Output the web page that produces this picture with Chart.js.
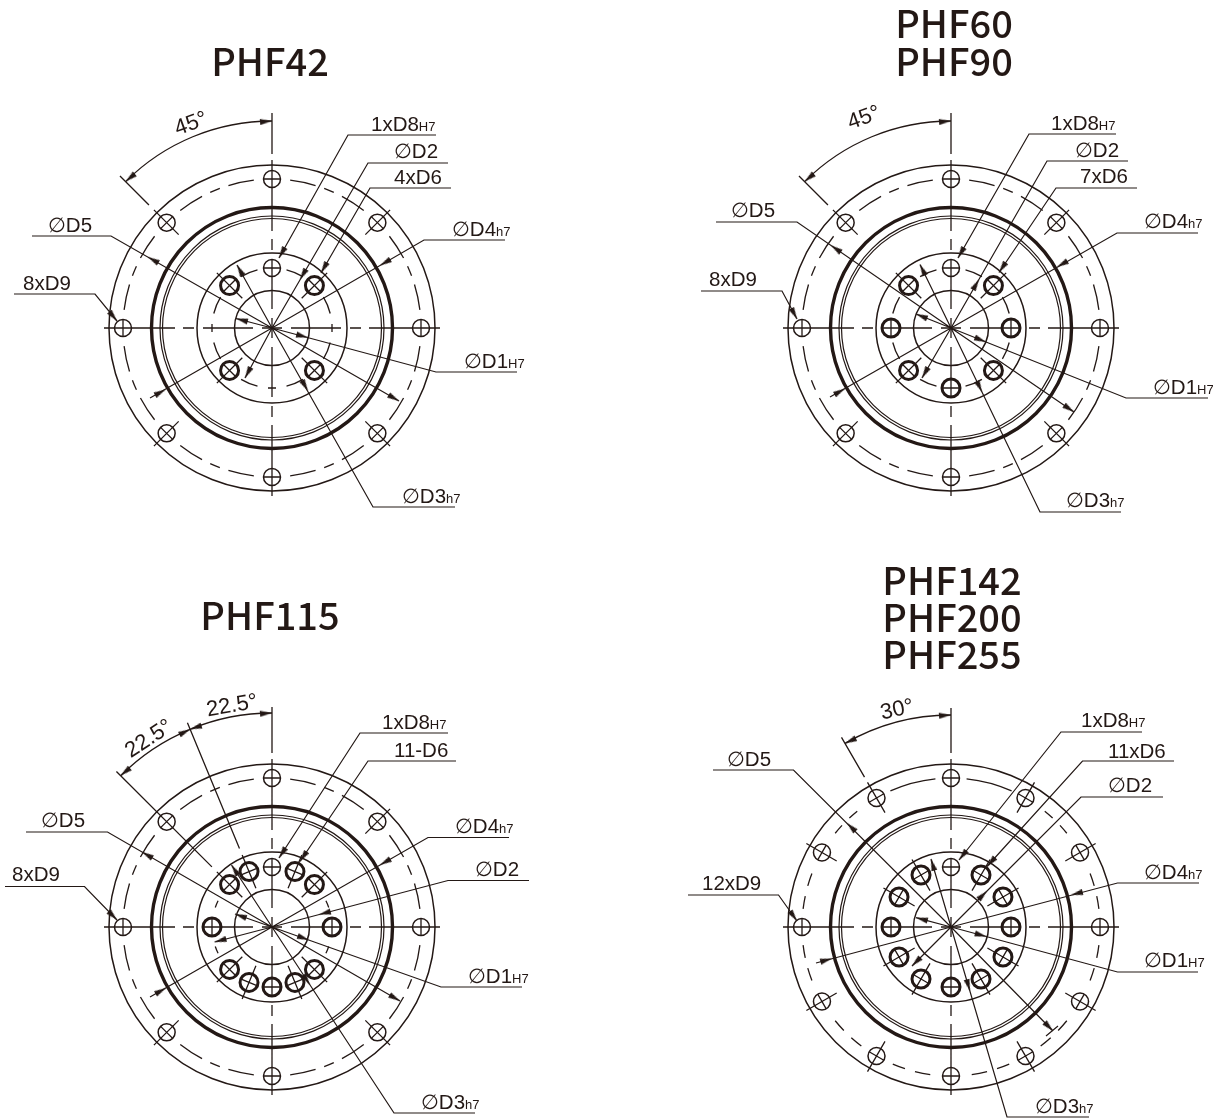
<!DOCTYPE html>
<html>
<head>
<meta charset="utf-8">
<title>PHF</title>
<script src="https://cdn.jsdelivr.net/npm/chart.js@4/dist/chart.umd.min.js"></script>
<style>
  html, body { margin: 0; padding: 0; background: #fff; }
  canvas { display: block; }
</style>
</head>
<body>
<canvas id="chart" width="1213" height="1118"></canvas>
<script>
// the four flange views, x and y
const viewX = [272, 951, 272, 951];
const viewY = [328, 328, 927, 927];

const titleTexts = ['PHF42', 'PHF60', 'PHF90', 'PHF115', 'PHF142', 'PHF200', 'PHF255'];
const titleX = [270, 954, 954, 270, 952, 952, 952];
const titleY = [76, 38, 76, 630, 595, 632, 669];

// ring radii
const ringsThin = [163, 75, 37.5];
const ringsDouble = [112, 109.5];
const ringThick = [120.5];
const circleOuterHoles = 149;
const circleInnerHoles = 60;
const holeRadius = 8.5;
const thickHoleRadius = 9;

const outerHoleAngles = [
  [0, 45, 90, 135, 180, 225, 270, 315],
  [0, 45, 90, 135, 180, 225, 270, 315],
  [0, 45, 90, 135, 180, 225, 270, 315],
  [0, 30, 60, 90, 120, 150, 180, 210, 240, 270, 300, 330]
];
const innerHoleAngles = [
  [45, 135, 225, 315],
  [0, 45, 135, 180, 225, 270, 315],
  [0, 45, 67.5, 112.5, 135, 180, 225, 247.5, 270, 292.5, 315],
  [0, 30, 60, 120, 150, 180, 210, 240, 270, 300, 330]
];
const d8Angle = 90;
const innerTickAngles = [[0, 180, 270], [], [], []];

// broken line of the bolt circles: [from, to] degrees
const dashes45 = [[7, 17], [20.5, 24.5], [28, 38], [52, 62], [65.5, 69.5], [73, 83], [97, 107], [110.5, 114.5], [118, 128], [142, 152], [155.5, 159.5], [163, 173], [187, 197], [200.5, 204.5], [208, 218], [232, 242], [245.5, 249.5], [253, 263], [277, 287], [290.5, 294.5], [298, 308], [322, 332], [335.5, 339.5], [343, 353]];
const dashes30 = [[7, 12], [16, 21], [39, 43], [47, 51], [66, 84], [96, 114], [129, 133], [137, 141], [159, 164], [168, 173], [187, 192], [196, 201], [219, 224], [228, 233], [247, 252], [256, 262], [278, 284], [288, 293], [307, 312], [316, 321], [339, 344], [348, 353]];
const dashesInner45 = [[14, 31], [59, 76], [104, 121], [149, 166], [194, 211], [239, 256], [284, 301], [329, 346]];
const dashesOuter = [dashes45, dashes45, dashes45, dashes30];
const dashesInner = [dashesInner45, dashesInner45, [[19, 26], [154, 161], [199, 206], [334, 341]], []];

// the angle dimensions: view, radius, from, to
const angleArcView = [0, 1, 2, 3];
const angleArcRadius = [207, 207, 214, 212];
const angleArcFrom = [90, 90, 90, 90];
const angleArcTo = [135, 135, 135, 120];
const angleArrowTips = [[90, 135], [90, 135], [90, 112.5, 112.5, 135], [90, 120]];
const angleArrowBack = [[100, 125], [100, 125], [98, 104, 121, 125], [98, 110]];
// extension lines: angle, r from, r to
const extensionLines = [
  [[135, 174, 215]],
  [[135, 174, 215]],
  [[135, 85, 220], [112.5, 85, 221]],
  [[120, 173, 219]]
];

// centre line breaks, distance from the view centre
const centreDashes = [[-168, -97], [-89, -78], [-69, -19], [-10, 10], [19, 69], [78, 89], [97, 168]];
const topDash = [[-215, -174], [-215, -174], [-220, -174], [-219, -174]];

const leaders = [
  [[436, 135], [348, 135], [279, 258]],
  [[448, 163], [368, 163], [272, 328], [245, 378]],
  [[451, 188], [370, 188], [321, 273]],
  [[505, 240], [424, 240], [272, 328], [150, 398]],
  [[32, 236], [111, 236], [272, 328], [399, 401]],
  [[14, 294], [95, 294], [117, 321]],
  [[455, 507], [373, 507], [272, 328], [237, 265]],
  [[517, 372], [436, 372], [272, 328], [236, 318.5]],

  [[1116, 134], [1029, 134], [958, 258]],
  [[1128, 161], [1047, 161], [951, 328], [922, 378]],
  [[1137, 188], [1056, 188], [999, 272.5]],
  [[1198, 233], [1117, 233], [951, 328], [830, 397]],
  [[716, 222], [797, 222], [951, 328], [1074, 412]],
  [[701, 291], [782, 291], [797, 319]],
  [[1121, 512], [1040, 512], [951, 328], [920, 264.5]],
  [[1208, 398], [1126, 398], [951, 328], [916, 314]],

  [[448, 733], [360, 733], [279, 858]],
  [[456, 761], [368, 761], [300, 861.5]],
  [[26, 832], [107.5, 832], [272, 927], [400, 1001]],
  [[5, 886.5], [84.5, 886.5], [117, 920]],
  [[509, 837.5], [428, 837.5], [272, 927], [150, 997]],
  [[529, 880.5], [448, 880.5], [272, 927], [214.6, 942]],
  [[522, 987], [441, 987], [272, 927], [235, 914]],
  [[475, 1113], [394, 1113], [272, 927], [231.5, 865]],

  [[1142, 732], [1061, 732], [959, 860]],
  [[1174, 761], [1082.5, 761], [987, 866.5]],
  [[1163, 797], [1081, 797], [951, 927], [912, 966]],
  [[1199, 883], [1117.5, 883], [951, 927], [816, 963]],
  [[1198, 972], [1117.5, 972], [951, 927], [916, 917.6]],
  [[1089, 1117], [1007, 1117], [951, 927], [931, 859]],
  [[713, 770], [793.5, 770], [951, 927], [1053, 1031]],
  [[688, 895], [778.5, 895], [797, 921]],
  [[1046, 1036], [1058, 1026]]
];

// tip x, tip y, then a point on the shaft behind it
const arrowHeads = [
  [279, 258, 348, 135], [300, 279.6, 368, 163], [245, 378, 272, 328], [321, 273, 370, 188],
  [380, 265.5, 424, 240], [165.6, 389.5, 150, 398], [148, 257, 272, 328], [399, 401, 272, 328],
  [117, 321, 95, 294], [237, 265, 272, 328], [308, 391, 272, 328], [236, 318.5, 272, 328], [308, 337.6, 272, 328],

  [958, 258, 1029, 134], [979, 279.4, 951, 328], [922, 378, 951, 328], [999, 272.5, 1056, 188],
  [1057, 267, 1117, 233], [845, 388.7, 830, 397], [831, 245.4, 951, 328], [1074, 412, 951, 328],
  [797, 319, 782, 291], [920, 264.5, 951, 328], [982, 392, 951, 328], [916, 314, 951, 328], [986, 342, 951, 328],

  [279, 858, 360, 733], [300, 861.5, 368, 761], [142, 852, 272, 927], [400, 1001, 272, 927],
  [117, 920, 84.5, 886.5], [380, 865, 428, 837.5], [166, 988, 150, 997], [214.6, 942, 272, 927],
  [319, 914.6, 340, 909], [235, 914, 272, 927], [309, 940, 272, 927], [231.5, 865, 272, 927], [310, 985, 272, 927],

  [959, 860, 1061, 732], [987, 866.5, 1082.5, 761], [987, 891, 951, 927], [912, 966, 951, 927],
  [1071, 895, 1117.5, 883], [832, 958.5, 816, 963], [916, 917.6, 951, 927], [986.6, 936.6, 951, 927],
  [931, 859, 951, 927], [970, 991, 951, 927], [847, 823, 951, 927], [1053, 1031, 951, 927], [797, 921, 778.5, 895]
];

const labelTexts = [
  '1xD8', '∅D2', '4xD6', '∅D4', '∅D5', '8xD9', '∅D3', '∅D1',
  '1xD8', '∅D2', '7xD6', '∅D4', '∅D5', '8xD9', '∅D3', '∅D1',
  '1xD8', '11-D6', '∅D5', '8xD9', '∅D4', '∅D2', '∅D1', '∅D3',
  '1xD8', '11xD6', '∅D2', '∅D4', '∅D1', '∅D3', '∅D5', '12xD9'
];
const labelSubs = [
  'H7', '', '', 'h7', '', '', 'h7', 'H7',
  'H7', '', '', 'h7', '', '', 'h7', 'H7',
  'H7', '', '', '', 'h7', '', 'H7', 'h7',
  'H7', '', '', 'h7', 'H7', 'h7', '', ''
];
const labelX = [
  371, 394, 394, 452, 48, 23, 402, 464,
  1051, 1075, 1080, 1144, 731, 709, 1066, 1153,
  382, 394, 41, 12, 455, 475, 468, 421,
  1081, 1108, 1108, 1144, 1144, 1035, 727, 702
];
const labelY = [
  131, 158, 184, 236, 232, 290, 503, 368,
  130, 157, 183, 228, 217, 286, 507, 394,
  729, 757, 827, 881, 833, 876, 983, 1109,
  727, 758, 792, 879, 967, 1113, 766, 890
];

const angleTexts = ['45°', '45°', '22.5°', '22.5°', '30°'];
const angleX = [191, 864, 232, 149, 897];
const angleY = [124, 118, 706, 739, 710];
const angleTurn = [-20, -20, -10, -33, -12];

const ink = '#231815';

function polar(view, deg, r) {
  const a = deg * Math.PI / 180;
  return { x: viewX[view] + r * Math.cos(a), y: viewY[view] - r * Math.sin(a) };
}

// line datasets, NaN breaks the stroke between pieces
function piece(list, from, to) {
  list.push(from, to, { x: NaN, y: NaN });
}

function tangentPiece(list, v, a, rCircle, half) {
  const c = polar(v, a, rCircle);
  const tx = -Math.sin(a * Math.PI / 180), ty = -Math.cos(a * Math.PI / 180);
  piece(list, { x: c.x - tx * half, y: c.y - ty * half }, { x: c.x + tx * half, y: c.y + ty * half });
}

const thinLines = [];
viewX.forEach((cx, v) => {
  const cy = viewY[v];
  centreDashes.forEach(d => {
    piece(thinLines, { x: cx + d[0], y: cy }, { x: cx + d[1], y: cy });
    piece(thinLines, { x: cx, y: cy + d[0] }, { x: cx, y: cy + d[1] });
  });
  piece(thinLines, { x: cx, y: cy + topDash[v][0] }, { x: cx, y: cy + topDash[v][1] });

  // hole cross lines
  outerHoleAngles[v].forEach(a => {
    tangentPiece(thinLines, v, a, circleOuterHoles, holeRadius);
    if (a % 90 !== 0) piece(thinLines, polar(v, a, 132), polar(v, a, 167));
  });
  innerHoleAngles[v].concat(d8Angle).forEach(a => {
    tangentPiece(thinLines, v, a, circleInnerHoles, holeRadius);
    if (a % 90 !== 0) piece(thinLines, polar(v, a, 42), polar(v, a, 78));
  });
  innerTickAngles[v].forEach(a => tangentPiece(thinLines, v, a, circleInnerHoles, 4));
  extensionLines[v].forEach(e => piece(thinLines, polar(v, e[0], e[1]), polar(v, e[0], e[2])));
});

const leaderLine = [];
leaders.forEach(path => {
  path.forEach(p => leaderLine.push({ x: p[0], y: p[1] }));
  leaderLine.push({ x: NaN, y: NaN });
});

// circles as bubbles, r is the read radius
const ringsLight = [], ringsMid = [], ringsHeavy = [], holesHeavy = [];
viewX.forEach((cx, v) => {
  const cy = viewY[v];
  ringsThin.forEach(r => ringsMid.push({ x: cx, y: cy, r }));
  ringsDouble.forEach(r => ringsLight.push({ x: cx, y: cy, r }));
  ringThick.forEach(r => ringsHeavy.push({ x: cx, y: cy, r }));
  outerHoleAngles[v].forEach(a => ringsMid.push({ ...polar(v, a, circleOuterHoles), r: holeRadius }));
  ringsMid.push({ ...polar(v, d8Angle, circleInnerHoles), r: holeRadius });
  innerHoleAngles[v].forEach(a => holesHeavy.push({ ...polar(v, a, circleInnerHoles), r: thickHoleRadius }));
});

// arrow heads, the image points up and is turned with pointRotation
const arrowImage = document.createElement('canvas');
arrowImage.width = 6;
arrowImage.height = 12;
const aCtx = arrowImage.getContext('2d');
aCtx.fillStyle = ink;
aCtx.beginPath();
aCtx.moveTo(3, 0);
aCtx.lineTo(6, 12);
aCtx.lineTo(0, 12);
aCtx.closePath();
aCtx.fill();

const arrowPoints = [], arrowTurns = [];
function addArrow(x, y, bx, by) {
  const dx = x - bx, dy = y - by;
  const len = Math.hypot(dx, dy) || 1;
  arrowPoints.push({ x: x - dx / len * 6, y: y - dy / len * 6 });
  arrowTurns.push(Math.atan2(dx, -dy) * 180 / Math.PI);
}
arrowHeads.forEach(h => addArrow(h[0], h[1], h[2], h[3]));
angleArcView.forEach((v, i) => {
  angleArrowTips[i].forEach((deg, k) => {
    const tip = polar(v, deg, angleArcRadius[i]);
    const back = polar(v, angleArrowBack[i][k], angleArcRadius[i]);
    addArrow(tip.x, tip.y, back.x, back.y);
  });
});

// arcs, dashes and text go on the canvas through the same scales
const sheetPlugin = {
  id: 'sheet',
  afterDatasetsDraw(chart) {
    const { ctx, scales } = chart;
    const px = v => scales.x.getPixelForValue(v);
    const py = v => scales.y.getPixelForValue(v);
    ctx.save();
    ctx.strokeStyle = ink;
    ctx.fillStyle = ink;

    function arc(v, r, from, to, width) {
      ctx.lineWidth = width;
      ctx.beginPath();
      ctx.arc(px(viewX[v]), py(viewY[v]), px(r) - px(0), -to * Math.PI / 180, -from * Math.PI / 180);
      ctx.stroke();
    }
    viewX.forEach((cx, v) => {
      dashesOuter[v].forEach(d => arc(v, circleOuterHoles, d[0], d[1], 1.3));
      dashesInner[v].forEach(d => arc(v, circleInnerHoles, d[0], d[1], 1.3));
    });
    angleArcView.forEach((v, i) => arc(v, angleArcRadius[i], angleArcFrom[i], angleArcTo[i], 1.3));

    ctx.textBaseline = 'alphabetic';
    ctx.textAlign = 'center';
    ctx.font = '500 38px "Noto Sans CJK SC", "Noto Sans"';
    titleTexts.forEach((t, i) => ctx.fillText(t, px(titleX[i]), py(titleY[i])));

    ctx.textAlign = 'left';
    labelTexts.forEach((t, i) => {
      ctx.font = '20.5px "Liberation Sans", "DejaVu Sans"';
      ctx.fillText(t, px(labelX[i]), py(labelY[i]));
      const w = ctx.measureText(t).width;
      if (labelSubs[i]) {
        ctx.font = '13px "Liberation Sans"';
        ctx.fillText(labelSubs[i], px(labelX[i]) + w, py(labelY[i]));
      }
    });

    ctx.textAlign = 'center';
    ctx.textBaseline = 'middle';
    ctx.font = '22px "Liberation Sans"';
    angleTexts.forEach((t, i) => {
      ctx.save();
      ctx.translate(px(angleX[i]), py(angleY[i]));
      ctx.rotate(angleTurn[i] * Math.PI / 180);
      ctx.fillText(t, 0, 0);
      ctx.restore();
    });
    ctx.restore();
  }
};

const lineBase = { type: 'scatter', showLine: true, spanGaps: false, pointRadius: 0, borderColor: ink, clip: false };
const ringBase = { type: 'bubble', backgroundColor: 'transparent', borderColor: ink, clip: false };

new Chart(document.getElementById('chart').getContext('2d'), {
  data: {
    datasets: [
      { ...ringBase, label: 'rings', data: ringsMid, borderWidth: 1.5 },
      { ...ringBase, label: 'double', data: ringsLight, borderWidth: 1.2 },
      { ...ringBase, label: 'thick', data: ringsHeavy, borderWidth: 3.4 },
      { ...ringBase, label: 'holes', data: holesHeavy, borderWidth: 3 },
      { ...lineBase, label: 'centre', data: thinLines, borderWidth: 1.3 },
      { ...lineBase, label: 'leaders', data: leaderLine, borderWidth: 1.2 },
      { type: 'scatter', label: 'arrows', data: arrowPoints, pointStyle: arrowImage, pointRotation: arrowTurns, clip: false }
    ]
  },
  options: {
    responsive: false,
    animation: false,
    layout: { padding: 0, autoPadding: false },
    plugins: { legend: { display: false }, tooltip: { enabled: false } },
    scales: {
      x: { type: 'linear', min: 0, max: 1213, display: false },
      y: { type: 'linear', min: 0, max: 1118, reverse: true, display: false }
    }
  },
  plugins: [sheetPlugin]
});
</script>
</body>
</html>
